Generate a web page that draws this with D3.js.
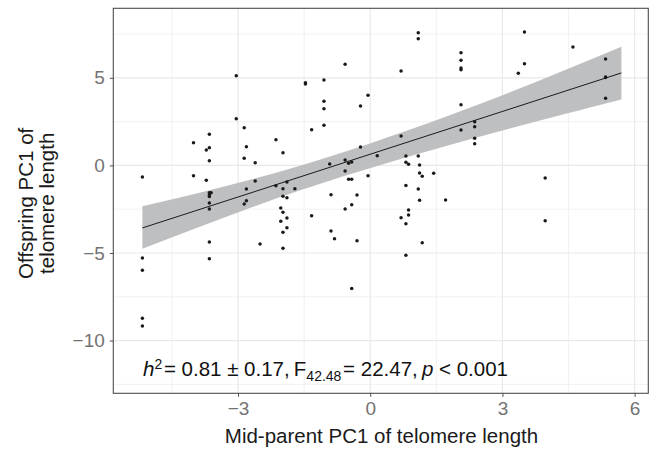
<!DOCTYPE html>
<html>
<head>
<meta charset="utf-8">
<script src="https://cdn.jsdelivr.net/npm/d3@7/dist/d3.min.js"></script>
<style>
  html, body { margin: 0; padding: 0; background: #fff; }
  svg { display: block; font-family: "Liberation Sans", Arial, Helvetica, sans-serif; }
</style>
</head>
<body>
<svg id="chart" width="652" height="450"></svg>
<script>
// ---------- data ----------
const parentPC1 = [
  -5.17, -5.17, -5.17, -5.17, -5.17,
  -4.01, -4.01,
  -3.72, -3.72,
  -3.65, -3.65, -3.65, -3.65, -3.61, -3.65, -3.65, -3.65, -3.65, -3.65, -3.65,
  -3.04, -3.04,
  -2.86, -2.86, -2.86,
  -2.81, -2.81, -2.81,
  -2.61, -2.61,
  -2.50,
  -2.14, -2.14,
  -2.03, -2.03,
  -1.98, -1.98, -1.98, -1.98, -1.98, -1.98,
  -1.89, -1.89, -1.89, -1.89,
  -1.71,
  -1.47, -1.47,
  -1.33, -1.33,
  -1.05, -1.05, -1.05, -1.05,
  -0.92,
  -0.89, -0.89,
  -0.81,
  -0.57, -0.57, -0.57, -0.57,
  -0.49, -0.49,
  -0.42, -0.42, -0.42, -0.42,
  -0.30, -0.30,
  -0.22, -0.22,
  -0.05, -0.05,
  0.16,
  0.70, 0.70, 0.70,
  0.81, 0.81, 0.81, 0.81, 0.81,
  0.87, 0.87, 0.87,
  1.09, 1.09, 1.09, 1.09,
  1.12, 1.12, 1.12,
  1.18, 1.18,
  1.44,
  1.71,
  2.06, 2.06, 2.06, 2.06, 2.06, 2.06,
  2.37, 2.37, 2.37, 2.37,
  3.36,
  3.50, 3.50,
  3.97, 3.97,
  4.60,
  5.34, 5.34, 5.34, 5.34
];
const offspringPC1 = [
  -0.66, -5.29, -5.99, -8.73, -9.17,
  1.30, -0.59,
  0.88, -0.85,
  1.78, 1.01, 0.27, -1.56, -1.56, -1.69, -1.78, -2.15, -2.49, -4.37, -5.33,
  5.12, 2.67,
  2.15, 0.41, -2.20,
  1.07, -1.35, -2.02,
  0.15, -0.89,
  -4.49,
  1.47, -1.16,
  -2.43, -3.19,
  0.73, -1.33, -1.76, -2.68, -3.82, -4.73,
  -0.95, -1.84, -3.00, -3.56,
  -1.33,
  4.72, 4.65,
  2.04, -2.87,
  4.88, 3.66, 3.24, 2.29,
  0.08,
  -1.67, -3.75,
  -4.18,
  5.77, 0.31, -0.32, -2.49,
  0.12, -0.79,
  0.19, -0.79, -2.24, -7.02,
  -1.69, -4.30,
  3.39, 1.05,
  4.00, -0.59,
  0.55,
  5.39, 1.68, -2.99,
  0.54, 0.18, -1.14, -3.33, -5.13,
  0.06, -2.55, -2.83,
  7.58, 7.23, 0.54, -1.35,
  0.02, -0.43, -1.99,
  -0.62, -4.41,
  -0.45,
  -1.98,
  6.43, 6.00, 5.56, 5.46, 3.47, 2.02,
  2.49, 2.21, 1.55, 1.24,
  5.26,
  7.62, 5.81,
  -0.72, -3.16,
  6.76,
  6.07, 5.05, 5.02, 3.83
];
// fitted regression line and its 95% confidence band, as drawn in the reference
const fitX = [-5.17, 5.70];
const fitY = [-3.57, 5.28];
const bandX = [-5.17, -1.59, 2.27, 5.70];
const bandLow = [-4.76, -1.42, 1.50, 3.76];
const bandHigh = [-2.33, -0.02, 3.30, 6.78];

const xTicks = [-3, 0, 3, 6];
const xMinor = [-4.5, -1.5, 1.5, 4.5];
const yTicks = [-10, -5, 0, 5];
const yMinor = [-12.5, -7.5, -2.5, 2.5, 7.5];
const xDomain = [-5.83, 6.31];
const yDomain = [-13.01, 8.97];
const xTitle = "Mid-parent PC1 of telomere length";
const yTitleLines = ["Offspring PC1 of", "telomere length"];

// ---------- layout ----------
const panel = { left: 113.3, right: 648.3, top: 8.3, bottom: 393.3 };
const svg = d3.select("#chart");
const x = d3.scaleLinear().domain(xDomain).range([panel.left, panel.right]);
const y = d3.scaleLinear().domain(yDomain).range([panel.bottom, panel.top]);

const points = parentPC1.map((v, i) => ({ x: v, y: offspringPC1[i] }));

// ---------- grid ----------
const grid = svg.append("g");
grid.selectAll(".vmin").data(xMinor).join("line")
  .attr("x1", d => x(d)).attr("x2", d => x(d))
  .attr("y1", panel.top).attr("y2", panel.bottom)
  .attr("stroke", "#efefef").attr("stroke-width", 0.9);
grid.selectAll(".hmin").data(yMinor).join("line")
  .attr("y1", d => y(d)).attr("y2", d => y(d))
  .attr("x1", panel.left).attr("x2", panel.right)
  .attr("stroke", "#efefef").attr("stroke-width", 0.9);
grid.selectAll(".vmaj").data(xTicks).join("line")
  .attr("x1", d => x(d)).attr("x2", d => x(d))
  .attr("y1", panel.top).attr("y2", panel.bottom)
  .attr("stroke", "#e9e9e9").attr("stroke-width", 1.2);
grid.selectAll(".hmaj").data(yTicks).join("line")
  .attr("y1", d => y(d)).attr("y2", d => y(d))
  .attr("x1", panel.left).attr("x2", panel.right)
  .attr("stroke", "#e9e9e9").attr("stroke-width", 1.2);

// ---------- confidence band ----------
const band = bandX.map((v, i) => ({ x: v, lo: bandLow[i], hi: bandHigh[i] }));
svg.append("path").datum(band)
  .attr("fill", "#bebfc1")
  .attr("d", d3.area().curve(d3.curveNatural)
    .x(d => x(d.x)).y0(d => y(d.lo)).y1(d => y(d.hi)));

// ---------- points ----------
svg.append("g").selectAll("circle").data(points).join("circle")
  .attr("cx", d => x(d.x)).attr("cy", d => y(d.y)).attr("r", 1.75)
  .attr("fill", "#1a1a1a");

// ---------- fit line ----------
const fit = fitX.map((v, i) => ({ x: v, y: fitY[i] }));
svg.append("path").datum(fit)
  .attr("fill", "none").attr("stroke", "#1a1a1a").attr("stroke-width", 1)
  .attr("d", d3.line().x(d => x(d.x)).y(d => y(d.y)));

// ---------- panel border ----------
svg.append("rect")
  .attr("x", panel.left).attr("y", panel.top)
  .attr("width", panel.right - panel.left).attr("height", panel.bottom - panel.top)
  .attr("fill", "none").attr("stroke", "#4d4d4d").attr("stroke-width", 1.1);

// ---------- axes ----------
const fmt = d => d < 0 ? "\u2212" + Math.abs(d) : String(d);
const xAxis = svg.append("g")
  .attr("transform", `translate(0,${panel.bottom})`)
  .call(d3.axisBottom(x).tickValues(xTicks).tickSize(3.5).tickPadding(4.5).tickFormat(fmt));
xAxis.select(".domain").remove();
xAxis.selectAll(".tick line").attr("stroke", "#4d4d4d");
xAxis.selectAll(".tick text").attr("fill", "#737373")
  .attr("font-size", 19).attr("font-family", null);

const yAxis = svg.append("g")
  .attr("transform", `translate(${panel.left},0)`)
  .call(d3.axisLeft(y).tickValues(yTicks).tickSize(3.5).tickPadding(5).tickFormat(fmt));
yAxis.select(".domain").remove();
yAxis.selectAll(".tick line").attr("stroke", "#4d4d4d");
yAxis.selectAll(".tick text").attr("fill", "#737373")
  .attr("font-size", 19).attr("font-family", null);

// ---------- titles ----------
svg.append("text")
  .attr("x", 381.5).attr("y", 443)
  .attr("text-anchor", "middle").attr("font-size", 20.5).attr("fill", "#1a1a1a")
  .text(xTitle);

const yt = svg.append("text")
  .attr("transform", `translate(0,${(panel.top + panel.bottom) / 2 + 2.5}) rotate(-90)`)
  .attr("text-anchor", "middle").attr("font-size", 20.5).attr("fill", "#1a1a1a");
yTitleLines.forEach((t, i) => {
  yt.append("tspan").attr("x", 0).attr("y", 32.5 + i * 21.5).text(t);
});

// ---------- annotation ----------
const ann = svg.append("text")
  .attr("x", 143).attr("y", 376)
  .attr("font-size", 20.5).attr("fill", "#111");
ann.append("tspan").attr("font-style", "italic").text("h");
ann.append("tspan").attr("font-size", 14).attr("dy", -7.5).text("2");
ann.append("tspan").attr("dy", 7.5).text("\u200A= 0.81 \u00B1 0.17,\u2009F");
ann.append("tspan").attr("font-size", 14).attr("dy", 5).text("42.48");
ann.append("tspan").attr("dy", -5).text("\u200A= 22.47,\u2009");
ann.append("tspan").attr("font-style", "italic").text("p");
ann.append("tspan").text(" < 0.001");
</script>
</body>
</html>
